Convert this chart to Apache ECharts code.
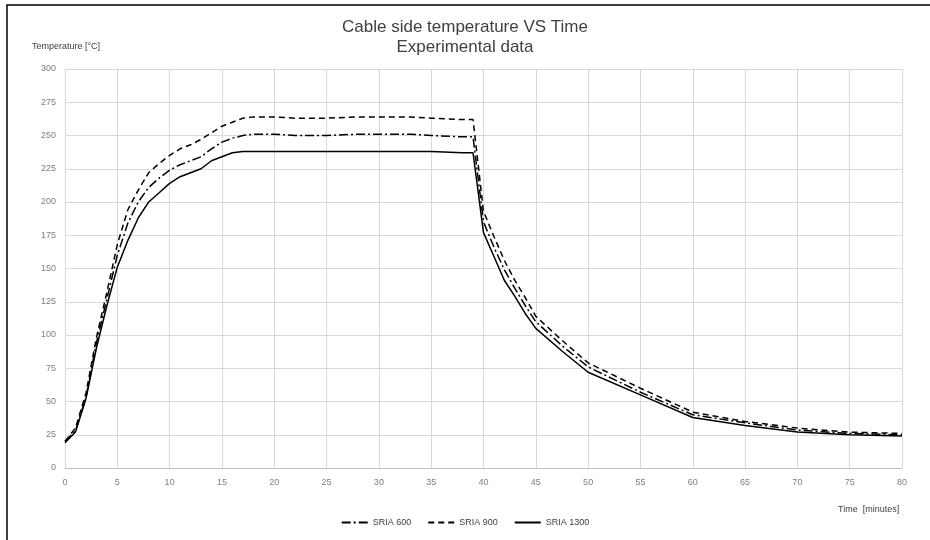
<!DOCTYPE html>
<html>
<head>
<meta charset="utf-8">
<script src="https://cdn.jsdelivr.net/npm/echarts@6/dist/echarts.min.js"></script>
<style>html,body{margin:0;padding:0;background:#fff}#c{width:930px;height:540px}</style>
</head>
<body>
<div id="c"></div>
<script>
var times = [0,1,2,3,4,5,6,7,8,9,10,11,12,13,14,15,16,17,18,20,22,25,28,30,33,35,38,39,40,41,42,43,44,45,47.5,50,55,60,65,70,75,80];
var sria600 = [20,28,53,94,127,160,184,200,211,218,224,228,231,234,240,245,248,250,251,251,250,250,251,251,251,250,249,249,185,166,149,135,122,110,92,76,57,40,34,28.5,26,25];
var sria900 = [20,30,56,98,132,168,194,209,222,229,235,240,243,247,252,257,260,263,264,264,263,263,264,264,264,263,262,262,193,174,156,141,128,114,96,79,60,42,35,30,27,26];
var sria1300 = [19,27,52,90,122,151,171,188,200,207,214,219,222,225,231,234,237,238,238,238,238,238,238,238,238,238,237,237,177,159,141,129,116,105,88,72,55,38,32,27,25,24];
var seriesNames = ['SRIA 600','SRIA 900','SRIA 1300'];
var xTicks = {min:0, max:80, interval:5};
var yTicks = {min:0, max:300, interval:25};

function pairs(vals){ return times.map(function(t,i){ return [t, vals[i]]; }); }

var chart = echarts.init(document.getElementById('c'));
var narrow = 'Liberation Sans Narrow, Liberation Sans, sans-serif';
var labelFont = {color:'#7f7f7f', fontSize:9, fontFamily:narrow};
chart.setOption({
  animation:false,
  backgroundColor:'#fff',
  title:{
    text:'Cable side temperature VS Time\nExperimental data',
    left:'center', top:12,
    textStyle:{fontSize:17, fontWeight:'normal', color:'#404040', fontFamily:narrow, lineHeight:20}
  },
  graphic:[
    {type:'rect', shape:{x:7,y:5,width:940,height:560}, style:{fill:'none', stroke:'#000', lineWidth:1.5}, silent:true},
    {type:'text', left:32, top:42, style:{text:'Temperature [°C]', fill:'#404040', fontSize:9, fontFamily:narrow}},
    {type:'text', left:838, top:505, style:{text:'Time  [minutes]', fill:'#404040', fontSize:9, fontFamily:narrow}}
  ],
  grid:{left:65, right:28, top:69, bottom:72, containLabel:false},
  legend:{
    bottom:8, left:'center', itemWidth:26, itemHeight:10, itemGap:16,
    itemStyle:{opacity:0},
    textStyle:{color:'#404040', fontSize:9, fontFamily:narrow},
    data:seriesNames
  },
  xAxis:{
    type:'value', min:xTicks.min, max:xTicks.max, interval:xTicks.interval,
    axisLine:{show:true, lineStyle:{color:'#bfbfbf'}},
    axisTick:{show:false},
    axisLabel:Object.assign({margin:10}, labelFont),
    splitLine:{show:true, lineStyle:{color:'#d9d9d9', width:1}}
  },
  yAxis:{
    type:'value', min:yTicks.min, max:yTicks.max, interval:yTicks.interval,
    axisLine:{show:true, lineStyle:{color:'#d9d9d9'}},
    axisTick:{show:false},
    axisLabel:Object.assign({margin:9}, labelFont),
    splitLine:{show:true, lineStyle:{color:'#d9d9d9', width:1}}
  },
  series:[
    {name:seriesNames[0], type:'line', data:pairs(sria600), symbol:'none',
     lineStyle:{color:'#000', width:1.5, type:[9,3,2,3]}, itemStyle:{color:'#000'}},
    {name:seriesNames[1], type:'line', data:pairs(sria900), symbol:'none',
     lineStyle:{color:'#000', width:1.5, type:[6,4]}, itemStyle:{color:'#000'}},
    {name:seriesNames[2], type:'line', data:pairs(sria1300), symbol:'none',
     lineStyle:{color:'#000', width:1.5, type:'solid'}, itemStyle:{color:'#000'}}
  ]
});
</script>
</body>
</html>
